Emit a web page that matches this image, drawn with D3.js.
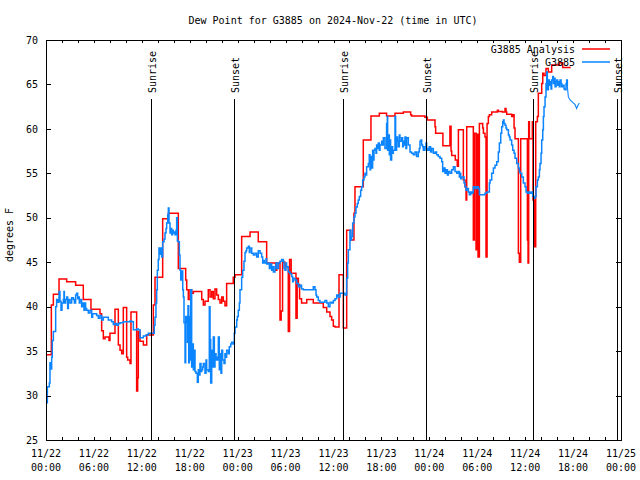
<!DOCTYPE html>
<html><head><meta charset="utf-8">
<script src="https://cdn.jsdelivr.net/npm/d3@7"></script>
<style>
html,body{margin:0;padding:0;background:#fff;}
svg{display:block;}
text{font-family:"DejaVu Sans Mono","Liberation Mono",monospace;font-size:10px;fill:#000;}
</style></head><body>
<svg id="chart" width="640" height="480"></svg>
<script>
// ---------- data ----------
const titleText = "Dew Point for G3885 on 2024-Nov-22 (time in UTC)";
const yLabelText = "degrees F";
const seriesNames = ["G3885 Analysis", "G3885"];
const seriesColors = ["#ff0000", "#0a84ff"];
const startUTC = Date.UTC(2024, 10, 22, 0, 0);
const spanHours = 72;
const yTicks = [25, 30, 35, 40, 45, 50, 55, 60, 65, 70];
const xLabelHours = [0, 6, 12, 18, 24, 30, 36, 42, 48, 54, 60, 66, 72];
const xTickHours = d3.range(0, 73, 2);
const sunLabels = ["Sunrise", "Sunset", "Sunrise", "Sunset", "Sunrise", "Sunset"];
const sunHours = [13.15, 23.54, 37.19, 47.58, 61.02, 71.5];

// analysis (hours since 11/22 00:00 UTC, deg F), stepped
const analysisSeries = [
[0.0,34.6],[0.67,40.2],[0.92,41.4],[1.63,43.1],[2.59,42.8],[3.71,42.4],[4.67,40.8],[5.63,39.7],[6.76,39.2],[6.97,37.3],[7.18,36.4],[7.39,36.6],[7.89,36.2],[8.01,37.0],[8.64,39.7],[9.06,35.7],[9.27,35.1],[9.48,34.7],[9.68,39.9],[10.1,34.3],[10.23,34.0],[10.52,33.6],[10.64,39.4],[11.35,30.5],[11.48,32.0],[11.56,37.2],[11.77,36.1],[12.19,35.7],[12.61,36.8],[13.44,40.2],[13.65,43.3],[14.61,49.9],[15.32,50.5],[16.57,44.3],[17.49,43.0],[17.62,41.9],[17.82,40.8],[18.03,41.9],[18.24,41.5],[18.45,41.7],[19.5,40.8],[19.7,40.2],[19.91,40.6],[20.32,41.9],[20.54,41.1],[20.75,41.7],[20.95,40.9],[21.16,42.0],[21.37,41.3],[21.58,40.8],[21.79,40.4],[22.0,41.1],[22.2,40.6],[22.41,40.1],[22.62,42.6],[23.45,43.3],[23.67,43.6],[24.5,47.9],[25.55,48.4],[26.58,47.3],[27.63,44.9],[28.76,44.1],[28.9,44.9],[29.3,38.5],[29.45,39.5],[29.62,45.0],[29.93,44.5],[30.34,37.2],[30.5,45.3],[30.7,43.75],[31.3,38.7],[31.45,43.2],[31.6,42.5],[31.75,40.9],[32.0,40.4],[32.65,40.8],[33.47,40.4],[34.72,39.9],[35.15,39.4],[35.56,38.9],[35.77,38.5],[35.98,37.8],[36.19,37.7],[36.69,43.6],[37.23,37.6],[37.65,48.6],[38.15,47.5],[38.56,50.5],[38.69,53.5],[39.73,58.75],[40.69,61.45],[41.74,61.75],[42.65,61.45],[43.7,61.75],[44.74,61.9],[45.66,61.6],[45.78,61.45],[47.45,61.3],[47.75,61.0],[48.71,60.25],[48.79,59.5],[49.7,58.1],[50.58,60.3],[50.72,57.5],[50.8,57.0],[51.25,56.5],[51.5,55.8],[51.64,59.9],[52.26,54.25],[52.47,53.5],[52.6,52.0],[52.68,60.25],[53.51,47.5],[53.64,59.5],[53.85,46.4],[53.98,59.4],[54.1,45.6],[54.27,60.6],[54.68,60.1],[54.77,59.5],[54.97,59.1],[55.1,45.6],[55.23,60.6],[55.39,61.4],[55.52,61.6],[55.81,61.9],[56.52,62.1],[56.64,61.95],[57.15,61.9],[57.48,62.3],[57.6,61.9],[57.69,61.65],[58.31,61.4],[58.44,61.6],[58.61,60.1],[58.73,58.9],[59.15,46.0],[59.27,45.0],[59.44,58.9],[60.28,47.5],[60.36,44.9],[60.44,60.8],[60.53,58.9],[60.9,60.8],[60.98,52.0],[61.19,46.75],[61.32,60.8],[61.53,61.4],[61.65,64.0],[62.07,65.1],[62.2,66.25],[62.36,66.0],[62.61,66.8],[62.9,66.4],[63.32,67.2],[64.28,67.45],[64.7,66.9],[65.7,66.9]
];

// station observations (hours since 11/22 00:00 UTC, deg F)
const stationSeries = [
[0.08,29.2],[0.17,31.0],[0.42,31.4],[0.5,33.7],[0.63,33.0],[0.71,34.3],[0.79,36.2],[0.92,37.2],[1.21,40.0],[1.33,40.8],[1.46,40.5],[1.63,41.7],[1.75,40.6],[1.88,39.6],[2.0,40.4],[2.17,40.8],[2.25,41.7],[2.3,40.4],[2.46,40.8],[2.59,41.1],[2.71,39.8],[2.8,40.8],[3.0,40.4],[3.21,41.0],[3.42,40.8],[3.55,40.4],[3.71,41.3],[3.84,41.5],[3.96,40.9],[4.05,41.1],[4.17,40.4],[4.26,40.8],[4.46,40.0],[4.59,40.4],[4.76,39.6],[4.88,40.4],[4.96,39.8],[5.09,39.6],[5.3,39.3],[5.51,39.6],[5.72,38.8],[5.84,39.2],[6.14,39.2],[6.34,39.0],[6.55,38.7],[6.76,39.0],[6.97,38.5],[7.18,38.8],[7.6,38.8],[7.8,38.5],[8.01,38.5],[8.22,38.3],[8.43,38.0],[8.64,38.1],[8.85,37.9],[9.06,38.1],[9.27,38.2],[9.68,38.3],[10.1,38.3],[10.52,38.4],[10.73,38.3],[10.94,37.4],[11.35,37.5],[11.56,37.4],[11.77,36.5],[12.19,36.7],[12.52,36.8],[12.81,37.0],[13.02,37.0],[13.44,37.0],[13.56,37.9],[13.65,38.8],[13.77,40.4],[13.86,41.9],[13.94,44.1],
[14.06,45.3],[14.15,46.6],[14.27,45.9],[14.4,46.6],[14.48,45.6],[14.61,47.3],[14.78,47.6],[14.9,48.3],[15.03,48.8],[15.11,49.4],[15.24,50.3],[15.32,51.1],[15.4,49.4],[15.53,48.3],[15.61,48.8],[15.74,48.1],[15.86,48.6],[15.94,48.3],[16.07,48.4],[16.15,48.1],[16.28,48.6],[16.36,50.0],[16.45,47.4],[16.57,47.3],[16.7,45.8],[16.78,44.1],[16.87,43.0],[16.99,44.0],[17.12,41.9],[17.2,41.1],[17.28,38.2],[17.41,33.7],[17.49,38.9],[17.62,38.2],[17.7,36.0],[17.78,40.1],[17.87,33.7],[17.95,38.9],[18.03,34.0],[18.12,41.9],[18.24,33.2],[18.37,35.8],[18.45,32.9],[18.57,35.1],[18.66,32.7],[18.78,32.5],[18.95,31.5],[19.07,32.9],[19.2,32.3],[19.28,33.6],[19.41,32.7],[19.5,32.9],[19.62,33.2],[19.7,33.6],[19.91,32.5],[20.04,34.0],[20.12,32.9],[20.32,32.7],[20.45,40.0],[20.54,36.3],[20.62,31.4],[20.75,35.1],[20.87,33.2],[20.95,36.6],[21.08,33.2],[21.16,34.7],[21.29,34.0],[21.37,34.3],[21.45,34.0],[21.58,36.6],[21.7,32.9],[21.79,34.7],[21.91,32.5],[22.0,35.1],[22.12,34.0],[22.29,33.6],[22.41,34.7],[22.54,34.3],[22.62,35.1],[22.83,34.7],[22.95,35.5],[23.13,35.8],[23.25,36.0],[23.45,35.8],[23.58,37.0],[23.67,37.7],[23.88,38.5],[23.96,38.9],[24.08,39.6],[24.21,40.4],[24.29,41.9],[24.5,43.3],[24.63,44.1],[24.79,45.1],[24.92,46.1],[25.04,46.3],[25.13,46.6],[25.33,46.8],[25.46,46.1],[25.55,46.6],[25.76,46.0],[25.96,45.8],[26.17,46.0],[26.38,45.6],[26.58,46.3],
[26.8,46.0],[27.0,45.6],[27.13,44.9],[27.22,45.2],[27.34,44.9],[27.55,45.4],[27.63,44.8],[27.84,44.9],[27.97,44.3],[28.13,44.8],[28.26,44.1],[28.38,44.5],[28.47,43.9],[28.68,44.5],[28.8,44.9],[28.89,44.3],[29.1,44.9],[29.3,45.1],[29.51,45.3],[29.72,45.1],[29.8,44.3],[29.93,44.1],[30.05,44.9],[30.13,44.5],[30.34,43.9],[30.55,43.7],[30.76,43.4],[30.88,42.8],[30.97,43.2],[31.18,43.0],[31.39,42.6],[31.6,42.25],[31.8,42.4],[32.0,42.0],[32.23,41.9],[33.06,41.9],[33.47,42.25],[33.68,41.9],[33.81,41.3],[33.9,41.1],[34.1,40.7],[34.3,40.5],[34.72,40.5],[34.93,40.7],[35.15,40.4],[35.35,40.0],[35.56,40.5],[35.77,40.4],[35.98,40.7],[36.19,40.9],[36.4,41.3],[36.6,41.1],[36.82,41.5],[37.23,41.5],[37.44,41.3],[37.65,43.2],[37.77,44.9],[37.86,46.4],[38.06,48.6],[38.17,47.5],[38.27,47.9],[38.4,49.4],[38.56,50.1],[38.69,50.5],[38.81,51.2],
[38.98,51.6],[39.1,52.0],[39.23,52.4],[39.4,53.1],[39.52,53.5],[39.65,54.25],[39.82,54.6],[39.94,55.0],[40.07,54.8],[40.15,55.75],[40.36,56.1],[40.48,57.1],[40.57,55.4],[40.65,56.9],[40.78,55.6],[40.9,57.6],[40.98,56.5],[41.07,57.6],[41.19,57.8],[41.32,57.25],[41.4,58.2],[41.53,57.8],[41.61,58.4],[41.74,57.6],[41.82,58.2],[42.03,58.6],[42.15,58.2],[42.24,59.0],[42.44,57.8],[42.65,60.6],[42.74,61.4],[42.78,57.6],[42.86,59.3],[42.99,57.1],[43.07,58.75],[43.15,56.5],[43.28,58.0],[43.4,57.25],[43.49,57.6],[43.7,61.4],[43.78,57.6],[43.9,59.1],[44.03,58.6],[44.11,58.0],[44.24,59.3],[44.32,58.6],[44.53,59.0],[44.66,58.0],[44.74,58.6],[44.87,58.2],[44.95,59.1],[45.07,57.8],[45.16,59.0],[45.37,58.2],[45.58,57.4],[45.78,57.25],[45.99,57.1],[46.2,57.4],[46.41,56.9],[46.62,57.4],[46.74,57.8],[46.83,58.6],[46.95,58.75],[47.04,58.2],[47.16,58.0],[47.25,57.6],[47.45,58.0],[47.58,58.4],[47.66,57.8],[47.79,57.6],[47.99,58.0],[48.16,57.4],[48.29,57.8],[48.5,57.25],[48.71,57.4],[48.91,57.1],[49.12,56.9],
[49.34,56.7],[49.55,56.3],[49.67,55.2],[49.84,55.6],[49.97,55.0],[50.09,55.4],[50.26,54.8],[50.38,55.2],[50.59,55.0],[50.8,55.4],[51.01,55.75],[51.22,55.2],[51.43,55.0],[51.64,55.2],[51.76,54.6],[51.84,55.0],[51.93,54.4],[52.05,54.6],[52.26,54.6],[52.35,53.9],[52.47,53.5],[52.6,53.1],[52.68,53.3],[52.89,52.9],[53.01,52.6],[53.18,52.9],[53.31,52.75],[53.43,52.9],[53.51,53.5],[53.72,53.3],[53.93,53.5],[54.14,53.3],[54.27,52.6],[54.68,52.6],[54.97,52.75],[55.18,52.9],[55.39,52.9],[55.52,53.9],[55.6,54.25],[55.81,55.0],[56.02,55.6],[56.23,55.9],[56.44,56.3],[56.64,57.4],[56.77,58.4],[56.94,59.5],[57.06,60.25],[57.19,60.8],[57.27,61.0],[57.35,60.6],[57.48,60.4],[57.6,60.1],[57.69,59.9],[57.9,59.3],[58.02,59.1],[58.11,58.75],[58.31,58.2],[58.44,57.6],[58.61,57.25],[58.73,56.7],[58.94,56.1],[59.15,55.6],[59.27,55.2],[59.36,55.0],[59.57,54.6],[59.77,53.9],[59.98,53.5],[60.11,52.9],[60.28,52.75],[60.4,52.9],[60.61,52.75],[60.82,52.9],[60.94,52.4],[61.11,52.2],[61.24,52.4],[61.36,53.5],[61.53,54.25],[61.65,54.6],[61.78,55.4],[61.86,56.1],[61.99,57.25],[62.07,58.75],[62.2,59.9],[62.28,61.4],[62.36,62.5],[62.49,63.6],[62.61,65.1],[62.7,66.4],[62.78,64.4],[62.91,65.5],[63.03,64.9],[63.11,65.3],[63.24,64.5],[63.32,65.5],[63.45,65.9],[63.53,65.1],[63.66,65.7],[63.74,64.75],[63.87,65.3],[63.95,65.5],[64.07,64.9],[64.16,65.3],[64.28,64.75],[64.37,65.5],[64.49,65.1],[64.58,64.75],[64.7,64.9],[64.87,64.5],[64.99,64.4],[65.12,65.1],[65.2,65.5],[65.28,64.75],[65.41,63.6],[65.62,63.25],[65.83,63.1],[66.04,62.9],[66.24,62.75],[66.45,62.3],[66.54,62.5],[66.66,62.75],[66.79,62.9]
];
const stationTailFrom = 65.28; // after this the record is drawn as plain thin line

// ---------- layout ----------
const plot = {left: 46, right: 621, top: 40, bottom: 440};
const toDate = h => new Date(startUTC + h * 3600e3);

const svg = d3.select("#chart");
const x = d3.scaleUtc().domain([toDate(0), toDate(spanHours)]).range([plot.left, plot.right]);
const y = d3.scaleLinear().domain([25, 70]).range([plot.bottom, plot.top]);

// title
svg.append("text").attr("x", 333).attr("y", 24).attr("text-anchor", "middle").text(titleText);

// y label
svg.append("text").attr("transform", "translate(13,235) rotate(-90)")
  .attr("text-anchor", "middle").text(yLabelText);

// data lines
const stepLine = d3.line().x(d => x(toDate(d[0]))).y(d => y(d[1])).curve(d3.curveStepAfter);
const plainLine = d3.line().x(d => x(toDate(d[0]))).y(d => y(d[1]));

svg.append("path").datum(analysisSeries)
  .attr("d", stepLine).attr("fill", "none").attr("stroke", seriesColors[0])
  .attr("stroke-width", 1.5);

const mainObs = stationSeries.filter(d => d[0] <= stationTailFrom);
const tailObs = stationSeries.filter(d => d[0] >= stationTailFrom);
svg.append("path").datum(mainObs)
  .attr("d", stepLine).attr("fill", "none").attr("stroke", seriesColors[1])
  .attr("stroke-width", 1.5);
svg.append("path").datum(tailObs)
  .attr("d", plainLine).attr("fill", "none").attr("stroke", seriesColors[1])
  .attr("stroke-width", 1.1);

// sunrise / sunset lines
const sunTop = 99;
const sunG = svg.append("g");
sunHours.forEach((h, i) => {
  const sx = Math.round(x(toDate(h))) + 0.5;
  sunG.append("line").attr("x1", sx).attr("x2", sx).attr("y1", sunTop).attr("y2", plot.bottom)
    .attr("stroke", "#000").attr("stroke-width", 1).attr("shape-rendering", "crispEdges");
  sunG.append("text").attr("transform", `translate(${sx + 4.5},${sunTop - 6}) rotate(-90)`)
    .attr("text-anchor", "start").text(sunLabels[i]);
});

// axes
function styleAxis(g) {
  g.select(".domain").remove();
  g.selectAll("line").attr("stroke", "#000").attr("shape-rendering", "crispEdges");
  g.attr("font-family", null).attr("font-size", null);
}
const xTickDates = xTickHours.map(toDate);
svg.append("g").attr("transform", `translate(0,${plot.bottom})`)
  .call(d3.axisBottom(x).tickValues(xTickDates).tickSize(-3).tickFormat(""))
  .call(styleAxis);
svg.append("g").attr("transform", `translate(0,${plot.top})`)
  .call(d3.axisTop(x).tickValues(xTickDates).tickSize(-3).tickFormat(""))
  .call(styleAxis);
svg.append("g").attr("transform", `translate(${plot.left},0)`)
  .call(d3.axisLeft(y).tickValues(yTicks).tickSize(-5).tickPadding(8).tickFormat(d3.format("d")))
  .call(styleAxis);
svg.append("g").attr("transform", `translate(${plot.right},0)`)
  .call(d3.axisRight(y).tickValues(yTicks).tickSize(-5).tickFormat(""))
  .call(styleAxis);

// x labels (two rows)
const fmtDay = d3.utcFormat("%m/%d"), fmtTime = d3.utcFormat("%H:%M");
const xl = svg.append("g").selectAll("g").data(xLabelHours.map(toDate)).join("g")
  .attr("transform", d => `translate(${x(d)},0)`);
xl.append("text").attr("y", 457).attr("text-anchor", "middle").text(d => fmtDay(d));
xl.append("text").attr("y", 470.5).attr("text-anchor", "middle").text(d => fmtTime(d));

// frame
svg.append("rect").attr("x", plot.left + 0.5).attr("y", plot.top + 0.5)
  .attr("width", plot.right - plot.left).attr("height", plot.bottom - plot.top)
  .attr("fill", "none").attr("stroke", "#000").attr("shape-rendering", "crispEdges");

// legend
const lg = svg.append("g");
seriesNames.forEach((name, i) => {
  const ly = 49 + i * 13;
  lg.append("text").attr("x", 575).attr("y", ly + 3.5).attr("text-anchor", "end").text(name);
  lg.append("line").attr("x1", 582).attr("x2", 610).attr("y1", ly).attr("y2", ly)
    .attr("stroke", seriesColors[i]).attr("stroke-width", 1.5);
});
</script>
</body></html>
